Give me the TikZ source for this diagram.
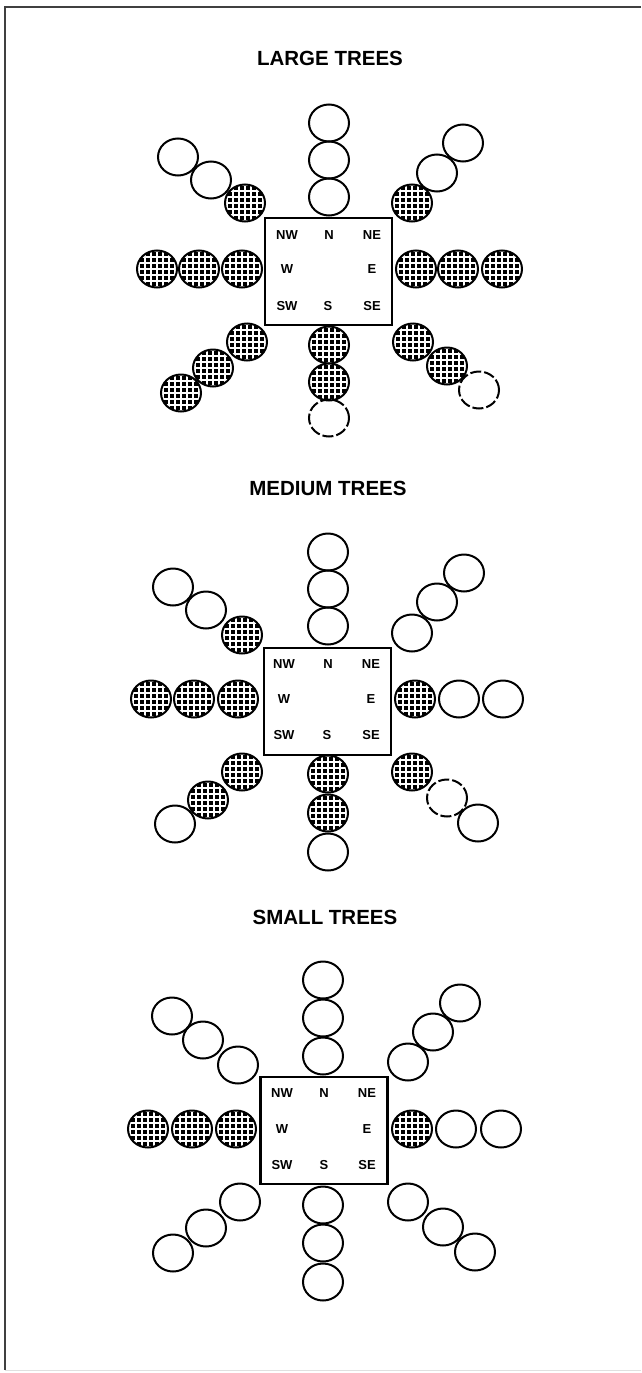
\documentclass[tikz,border=0pt]{standalone}
\usepackage{fontspec}
\setmainfont{Liberation Sans}
\usetikzlibrary{shapes.geometric}

\tikzset{
  tree/.style={ellipse, draw=black, line width=2pt, minimum width=40pt,
    minimum height=37pt, inner sep=0pt},
  gap/.style={tree, dash pattern=on 11pt off 3pt},
  hatched/.style={tree, fill=black,
    path picture={\draw[white, line width=1.1pt]
      ([shift={(-3pt,-3pt)}]path picture bounding box.south west) grid[step=6pt]
      ([shift={(3pt,3pt)}]path picture bounding box.north east);}},
  compass/.style={draw=black, line width=2.2pt, minimum width=127pt,
    minimum height=107pt, inner sep=0pt},
  dir/.style={font=\fontsize{13}{13}\selectfont\bfseries, inner sep=0pt},
  heading/.style={font=\fontsize{20.5}{20.5}\selectfont\bfseries, inner sep=0pt},
}

\begin{document}
\begin{tikzpicture}[x=1pt, y=-1pt]
\useasboundingbox (0,0) rectangle (641,1373);

% page frame
\draw[black!75, line width=2pt] (641,7) -- (4.5,7) -- (4.5,1370);
\draw[black!12, line width=1pt] (4.5,1370) -- (641,1370);

% ---------------- large trees ----------------
\node[heading] (tL) at (330,58) {LARGE TREES};
\node[compass] (bL) at (328.5,271.5) {};
\node[dir] (lNW) at (287,235) {NW};
\node[dir] (lN)  at (329,235) {N};
\node[dir] (lNE) at (372,235) {NE};
\node[dir] (lW)  at (287,269) {W};
\node[dir] (lE)  at (372,269) {E};
\node[dir] (lSW) at (287,306) {SW};
\node[dir] (lS)  at (328,306) {S};
\node[dir] (lSE) at (372,306) {SE};
% north
\node[tree] (lN1) at (329,197) {};
\node[tree] (lN2) at (329,160) {};
\node[tree] (lN3) at (329,123) {};
% south
\node[hatched] (lS1) at (329,345) {};
\node[hatched] (lS2) at (329,382) {};
\node[gap]     (lS3) at (329,418) {};
% west
\node[hatched] (lW1) at (242,269) {};
\node[hatched] (lW2) at (199,269) {};
\node[hatched] (lW3) at (157,269) {};
% east
\node[hatched] (lE1) at (416,269) {};
\node[hatched] (lE2) at (458,269) {};
\node[hatched] (lE3) at (502,269) {};
% north-west
\node[hatched] (lNW1) at (245,203) {};
\node[tree]    (lNW2) at (211,180) {};
\node[tree]    (lNW3) at (178,157) {};
% north-east
\node[hatched] (lNE1) at (412,203) {};
\node[tree]    (lNE2) at (437,173) {};
\node[tree]    (lNE3) at (463,143) {};
% south-west
\node[hatched] (lSW1) at (247,342) {};
\node[hatched] (lSW2) at (213,368) {};
\node[hatched] (lSW3) at (181,393) {};
% south-east
\node[hatched] (lSE1) at (413,342) {};
\node[hatched] (lSE2) at (447,366) {};
\node[gap]     (lSE3) at (479,390) {};

% ---------------- medium trees ----------------
\node[heading] (tM) at (328,488) {MEDIUM TREES};
\node[compass] (bM) at (327.5,701.5) {};
\node[dir] (mNW) at (284,664) {NW};
\node[dir] (mN)  at (328,664) {N};
\node[dir] (mNE) at (371,664) {NE};
\node[dir] (mW)  at (284,699) {W};
\node[dir] (mE)  at (371,699) {E};
\node[dir] (mSW) at (284,735) {SW};
\node[dir] (mS)  at (327,735) {S};
\node[dir] (mSE) at (371,735) {SE};
% north
\node[tree] (mN1) at (328,626) {};
\node[tree] (mN2) at (328,589) {};
\node[tree] (mN3) at (328,552) {};
% south
\node[hatched] (mS1) at (328,774) {};
\node[hatched] (mS2) at (328,813) {};
\node[tree]    (mS3) at (328,852) {};
% west
\node[hatched] (mW1) at (238,699) {};
\node[hatched] (mW2) at (194,699) {};
\node[hatched] (mW3) at (151,699) {};
% east
\node[hatched] (mE1) at (415,699) {};
\node[tree]    (mE2) at (459,699) {};
\node[tree]    (mE3) at (503,699) {};
% north-west
\node[hatched] (mNW1) at (242,635) {};
\node[tree]    (mNW2) at (206,610) {};
\node[tree]    (mNW3) at (173,587) {};
% north-east
\node[tree] (mNE1) at (412,633) {};
\node[tree] (mNE2) at (437,602) {};
\node[tree] (mNE3) at (464,573) {};
% south-west
\node[hatched] (mSW1) at (242,772) {};
\node[hatched] (mSW2) at (208,800) {};
\node[tree]    (mSW3) at (175,824) {};
% south-east
\node[hatched] (mSE1) at (412,772) {};
\node[gap]     (mSE2) at (447,798) {};
\node[tree]    (mSE3) at (478,823) {};

% ---------------- small trees ----------------
\node[heading] (tS) at (325,917) {SMALL TREES};
\node[compass] (bS) at (324,1130.5) {};
\node[dir] (sNW) at (282,1093) {NW};
\node[dir] (sN)  at (324,1093) {N};
\node[dir] (sNE) at (367,1093) {NE};
\node[dir] (sW)  at (282,1129) {W};
\node[dir] (sE)  at (367,1129) {E};
\node[dir] (sSW) at (282,1165) {SW};
\node[dir] (sS)  at (324,1165) {S};
\node[dir] (sSE) at (367,1165) {SE};
% north
\node[tree] (sN1) at (323,1056) {};
\node[tree] (sN2) at (323,1018) {};
\node[tree] (sN3) at (323,980) {};
% south
\node[tree] (sS1) at (323,1205) {};
\node[tree] (sS2) at (323,1243) {};
\node[tree] (sS3) at (323,1282) {};
% west
\node[hatched] (sW1) at (236,1129) {};
\node[hatched] (sW2) at (192,1129) {};
\node[hatched] (sW3) at (148,1129) {};
% east
\node[hatched] (sE1) at (412,1129) {};
\node[tree]    (sE2) at (456,1129) {};
\node[tree]    (sE3) at (501,1129) {};
% north-west
\node[tree] (sNW1) at (238,1065) {};
\node[tree] (sNW2) at (203,1040) {};
\node[tree] (sNW3) at (172,1016) {};
% north-east
\node[tree] (sNE1) at (408,1062) {};
\node[tree] (sNE2) at (433,1032) {};
\node[tree] (sNE3) at (460,1003) {};
% south-west
\node[tree] (sSW1) at (240,1202) {};
\node[tree] (sSW2) at (206,1228) {};
\node[tree] (sSW3) at (173,1253) {};
% south-east
\node[tree] (sSE1) at (408,1202) {};
\node[tree] (sSE2) at (443,1227) {};
\node[tree] (sSE3) at (475,1252) {};
\end{tikzpicture}
\end{document}
